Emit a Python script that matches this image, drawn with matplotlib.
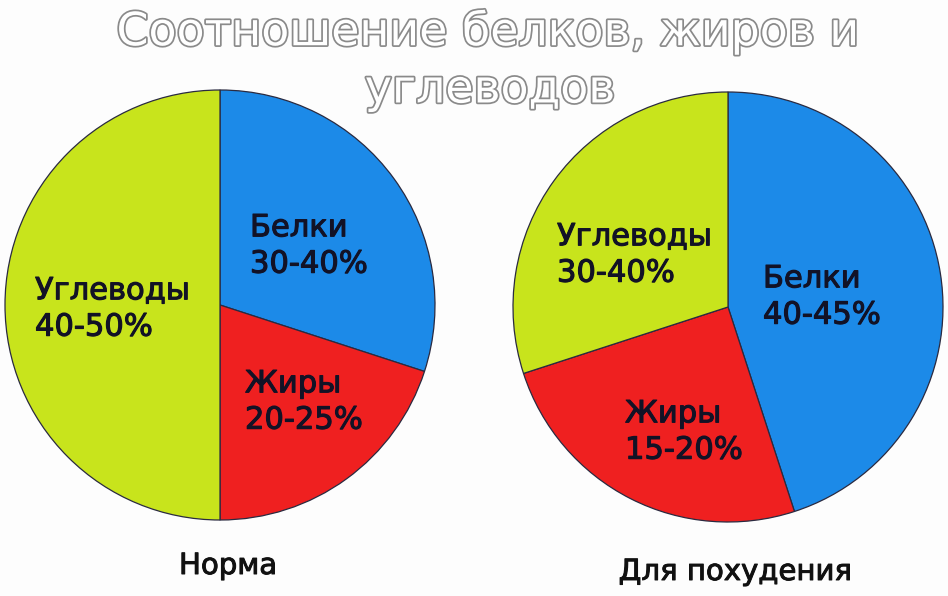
import matplotlib.pyplot as plt
import matplotlib.patheffects as pe

# Data
#####################################################
categories = ['Белки', 'Жиры', 'Углеводы']
colors = ['#1c8ae8', '#ef2020', '#c8e41c']

norm_values = [30, 20, 50]          # share of the circle
norm_labels = ['30-40%', '20-25%', '40-50%']

diet_values = [45, 25, 30]
diet_labels = ['40-45%', '15-20%', '30-40%']

title_lines = ['Соотношение белков, жиров и', 'углеводов']
pie_titles = ['Норма', 'Для похудения']

# Layout (pixels, image is 948x596)
#####################################################
W, H = 948, 596
R = 215
centers = [(220, 305), (728, 307)]
# left edge / middle y of the two-line label inside each wedge
label_pos = [
    [(250, 246), (245, 402), (35, 309)],
    [(763, 297), (625, 432), (557, 255)],
]
sub_pos = [(228, 566), (735, 572)]

fig = plt.figure(figsize=(W / 100, H / 100), dpi=100)
fig.patch.set_facecolor('#fdfdfd')

panels = [(norm_values, norm_labels), (diet_values, diet_labels)]
for k, (vals, labs) in enumerate(panels):
    cx, cy = centers[k]
    ax = fig.add_axes([(cx - R) / W, (H - cy - R) / H, 2 * R / W, 2 * R / H])
    ax.pie(vals, colors=colors, startangle=90, counterclock=False,
           radius=1.0,
           wedgeprops=dict(edgecolor='#2a2a40', linewidth=0.9))
    ax.set_xlim(-1.0, 1.0)
    ax.set_ylim(-1.0, 1.0)
    ax.set_aspect('equal')
    ax.axis('off')
    for i, name in enumerate(categories):
        x, y = label_pos[k][i]
        ax.text((x - cx) / R, -(y - cy) / R, name + '\n' + labs[i],
                ha='left', va='center', fontsize=22, color='#121226',
                linespacing=1.32, family='DejaVu Sans', fontweight='medium',
                path_effects=[pe.withStroke(linewidth=0.8, foreground='#121226')])
    fig.text(sub_pos[k][0] / W, 1 - sub_pos[k][1] / H, pie_titles[k],
             ha='center', va='center', fontsize=21, color='#111111',
             path_effects=[pe.withStroke(linewidth=0.7, foreground='#111111')])

# Outlined title
#####################################################
outline = [pe.withStroke(linewidth=2.5, foreground='#8a8a8a')]
fig.text(488 / W, 1 - 32 / H, title_lines[0], ha='center', va='center',
         fontsize=33, color='white', path_effects=outline)
fig.text(490 / W, 1 - 90 / H, title_lines[1], ha='center', va='center',
         fontsize=33, color='white', path_effects=outline, zorder=5)

fig.savefig('out.png', dpi=100, facecolor=fig.get_facecolor())
